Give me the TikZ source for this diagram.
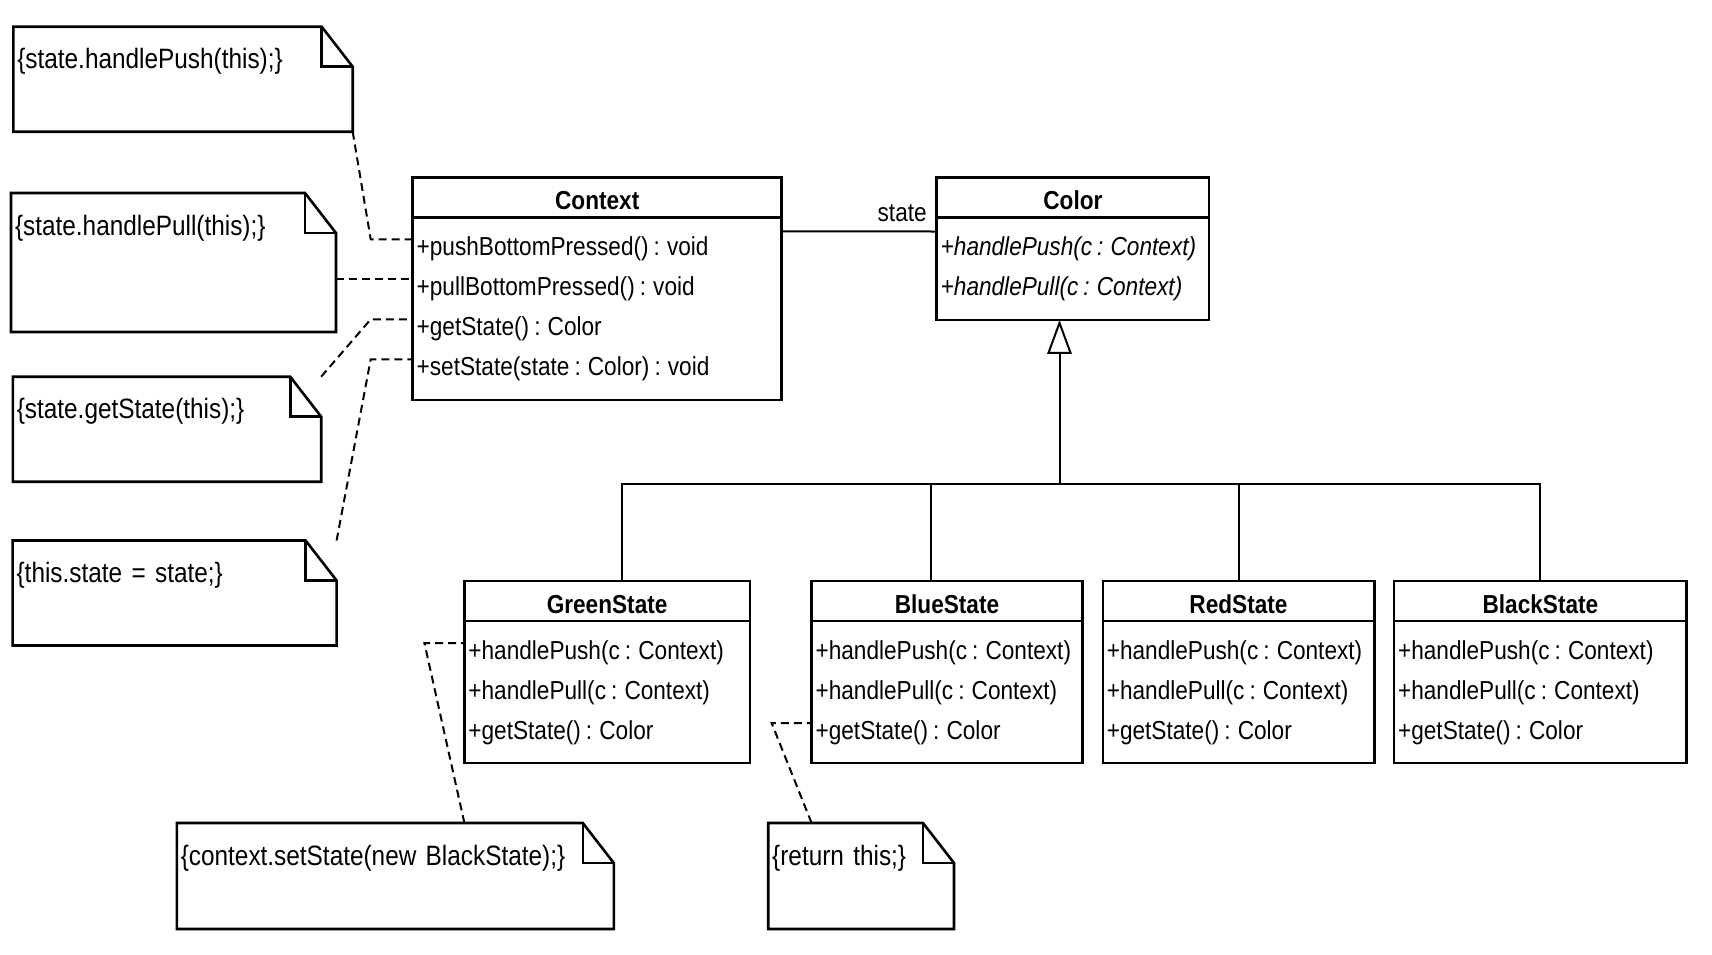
\documentclass[tikz,border=0pt]{standalone}
\usepackage{fontspec}
\setmainfont{Liberation Sans}[FakeStretch=0.87, WordSpace=0.8]
\usetikzlibrary{positioning, arrows.meta}

\tikzset{
    classtitle/.style={draw, line width=1.3pt, outer sep=0pt, inner sep=0pt, minimum height=20pt, text height=12pt, text depth=0pt, font=\fontsize{13}{15}\selectfont\bfseries},
    classbody/.style={draw, line width=1.3pt, outer sep=0pt, inner sep=0pt},
    member/.style={inner xsep=2pt, inner ysep=0pt, outer sep=0pt, text height=16pt, text depth=0pt, font=\fontsize{13}{15}\selectfont},
    abstractop/.style={member, font=\fontsize{13}{15}\selectfont\itshape},
    note/.style={inner xsep=2pt, inner ysep=0pt, outer sep=0pt, text height=21pt, align=left, anchor=north west, font=\fontsize{14}{16}\selectfont},
    notebox/.style={line width=1.3pt, line join=miter},
    noteline/.style={line width=1pt, dash pattern=on 4pt off 2.5pt},
    assoc/.style={line width=1pt},
}

% dog-eared outline round a note node
\newcommand{\notefold}[1]{%
    \draw[notebox] (#1.north west) -- ([xshift=-15.5pt]#1.north east) -- ([yshift=-20pt]#1.north east) -- (#1.south east) -- (#1.south west) -- cycle;
    \draw[notebox] ([xshift=-15.5pt]#1.north east) |- ([yshift=-20pt]#1.north east);}

\begin{document}
\begin{tikzpicture}[x=0.5pt, y=-0.5pt, node distance=0pt]
    \useasboundingbox (0,0) rectangle (1712,954);

    % Context and Color
    \node [classtitle, minimum width=184.5pt] (ctx) at (597.2,197.3) {Context};
    \node [classbody, minimum width=184.5pt, minimum height=91.3pt, below=0pt of ctx] (ctxbody) {};
    \node [member, below right=3pt and 0pt of ctxbody.north west] (ctxpush) {+pushBottomPressed() : void};
    \node [member, below right=4pt and 0pt of ctxpush.south west] (ctxpull) {+pullBottomPressed() : void};
    \node [member, below right=4pt and 0pt of ctxpull.south west] (ctxget) {+getState() : Color};
    \node [member, below right=4pt and 0pt of ctxget.south west] (ctxset) {+setState(state : Color) : void};

    \node [classtitle, minimum width=136.2pt] (color) at (1072.9,197.5) {Color};
    \node [classbody, minimum width=136.2pt, minimum height=51.2pt, below=0pt of color] (colorbody) {};
    \node [abstractop, below right=3pt and 0pt of colorbody.north west] (colpush) {+handlePush(c : Context)};
    \node [abstractop, below right=4pt and 0pt of colpush.south west] (colpull) {+handlePull(c : Context)};

    % concrete states
    \node [classtitle, minimum width=142.7pt] (green) at (607.1,601) {GreenState};
    \node [classbody, minimum width=142.7pt, minimum height=71pt, below=0pt of green] (greenbody) {};
    \node [member, below right=3pt and 0pt of greenbody.north west] (greenpush) {+handlePush(c : Context)};
    \node [member, below right=4pt and 0pt of greenpush.south west] (greenpull) {+handlePull(c : Context)};
    \node [member, below right=4pt and 0pt of greenpull.south west] (greenget) {+getState() : Color};

    \node [classtitle, minimum width=135.4pt] (blue) at (947,601) {BlueState};
    \node [classbody, minimum width=135.4pt, minimum height=71pt, below=0pt of blue] (bluebody) {};
    \node [member, below right=3pt and 0pt of bluebody.north west] (bluepush) {+handlePush(c : Context)};
    \node [member, below right=4pt and 0pt of bluepush.south west] (bluepull) {+handlePull(c : Context)};
    \node [member, below right=4pt and 0pt of bluepull.south west] (blueget) {+getState() : Color};

    \node [classtitle, minimum width=135.7pt] (red) at (1238.5,601) {RedState};
    \node [classbody, minimum width=135.7pt, minimum height=71pt, below=0pt of red] (redbody) {};
    \node [member, below right=3pt and 0pt of redbody.north west] (redpush) {+handlePush(c : Context)};
    \node [member, below right=4pt and 0pt of redpush.south west] (redpull) {+handlePull(c : Context)};
    \node [member, below right=4pt and 0pt of redpull.south west] (redget) {+getState() : Color};

    \node [classtitle, minimum width=146.3pt] (black) at (1540.4,601) {BlackState};
    \node [classbody, minimum width=146.3pt, minimum height=71pt, below=0pt of black] (blackbody) {};
    \node [member, below right=3pt and 0pt of blackbody.north west] (blackpush) {+handlePush(c : Context)};
    \node [member, below right=4pt and 0pt of blackpush.south west] (blackpull) {+handlePull(c : Context)};
    \node [member, below right=4pt and 0pt of blackpull.south west] (blackget) {+getState() : Color};

    % notes
    \node [note, text width=165.7pt, text depth=31.5pt] (note1) at (13.3,26.7) {\{state.handlePush(this);\}};
    \node [note, text width=158.5pt, text depth=48.5pt] (note2) at (11,193) {\{state.handlePull(this);\}};
    \node [note, text width=150.2pt, text depth=31.5pt] (note3) at (12.8,376.7) {\{state.getState(this);\}};
    \node [note, text width=158pt, text depth=31.5pt] (note4) at (12.6,540.5) {\{this.state = state;\}};
    \node [note, text width=214.5pt, text depth=32pt] (note5) at (176.8,823) {\{context.setState(new BlackState);\}};
    \node [note, text width=88.9pt, text depth=32pt] (note6) at (768.2,823) {\{return this;\}};
    \notefold{note1}
    \notefold{note2}
    \notefold{note3}
    \notefold{note4}
    \notefold{note5}
    \notefold{note6}

    % association and generalization
    \draw[assoc] ([yshift=-7pt]ctxbody.north east) -- ([yshift=-7pt]colorbody.north west)
        node [pos=1, above left, inner sep=4.5pt, font=\fontsize{13}{15}\selectfont] (role) {state};
    \coordinate (bus) at (1059.5,484);
    \draw[assoc, -{Triangle[open, length=17pt, width=12.2pt]}] (bus) -- (bus |- colorbody.south);
    \draw[assoc] ([xshift=7.2pt]green.north) |- (bus);
    \draw[assoc] ([xshift=-8pt]blue.north) |- (bus);
    \draw[assoc] (red.north) |- (bus);
    \draw[assoc] (black.north) |- (bus);

    % note links
    \draw[noteline] (note1.south east) -- ([xshift=-21pt]ctxpush.west) -- (ctxpush.west);
    \draw[noteline] (note2.east |- ctxpull.west) -- (ctxpull.west);
    \draw[noteline] (note3.north east) -- ([xshift=-21pt]ctxget.west) -- (ctxget.west);
    \draw[noteline] (note4.north east) -- ([xshift=-21pt]ctxset.west) -- (ctxset.west);
    \draw[noteline] (greenpush.west |- note5.north) -- ([xshift=-20pt]greenpush.west) -- (greenpush.west);
    \draw[noteline] (blueget.west |- note6.north) -- ([xshift=-20pt]blueget.west) -- (blueget.west);
\end{tikzpicture}
\end{document}
